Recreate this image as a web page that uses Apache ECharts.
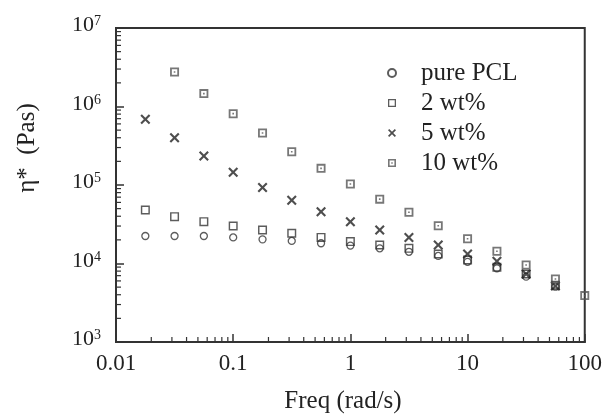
<!DOCTYPE html>
<html>
<head>
<meta charset="utf-8">
<script src="https://cdn.jsdelivr.net/npm/echarts@6/dist/echarts.min.js"></script>
<style>
  html, body { margin: 0; padding: 0; background: #fff; }
  #chart { width: 605px; height: 414px; }
</style>
</head>
<body>
<div id="chart"></div>
<script>
// Angular frequency (rad/s)
const freq = [0.0178, 0.0316, 0.0562, 0.1, 0.178, 0.316, 0.562, 1, 1.78, 3.16, 5.62, 10, 17.8, 31.6, 56.2, 100];

// Complex viscosity |eta*| (Pa s) for each composition
const purePCL = [22400, 22400, 22400, 21500, 20300, 19400, 18100, 16900, 15600, 14100, 12500, 10500, 8700, 6800, 5060, null];
const wt2 = [48000, 39500, 34100, 30000, 26700, 24300, 21500, 19000, 17200, 15600, 13200, 11100, 8950, 7350, 5300, null];
const wt5 = [690000, 400000, 234000, 145000, 93000, 64000, 45700, 34100, 26700, 21500, 17200, 13200, 10700, 7350, 5170, null];
const wt10 = [null, 2750000, 1460000, 810000, 460000, 265000, 163000, 103000, 66000, 45000, 30300, 20700, 14300, 9570, 6350, 3900];

const seriesNames = ['pure PCL', '2 wt%', '5 wt%', '10 wt%'];
const xTickLabels = ['0.01', '0.1', '1', '10', '100'];
const yTickExponents = ['3', '4', '5', '6', '7'];

const FONT = 'Liberation Serif, Times New Roman, serif';
const INK = '#222';

function pairs(ys) {
  const out = [];
  ys.forEach((y, i) => { if (y != null) out.push([freq[i], y]); });
  return out;
}

// Log-decade minor tick positions (2..9 x 10^k)
function minorTicks(lo, hi) {
  const t = [];
  for (let k = lo; k < hi; k++) {
    for (let m = 2; m <= 9; m++) t.push(m * Math.pow(10, k));
  }
  return t;
}
const xMinor = minorTicks(-2, 2);
const yMinor = minorTicks(3, 7);

// Marker outlines drawn as filled rings so they keep their aspect everywhere
const X_SYMBOL = 'path://M0,1.5 L1.5,0 L5,3.5 L8.5,0 L10,1.5 L6.5,5 L10,8.5 L8.5,10 L5,6.5 L1.5,10 L0,8.5 L3.5,5 Z';
const OPEN_SQUARE = 'path://M0,0 L10,0 L10,10 L0,10 Z M1.6,1.6 L1.6,8.4 L8.4,8.4 L8.4,1.6 Z';
const DOT_SQUARE = 'path://M0,0 L10,0 L10,10 L0,10 Z M2,2 L2,8 L8,8 L8,2 Z M4.1,4.1 L5.9,4.1 L5.9,5.9 L4.1,5.9 Z';

const chart = echarts.init(document.getElementById('chart'), null, { renderer: 'canvas' });

const option = {
  backgroundColor: '#fff',
  animation: false,
  grid: {
    left: 116, right: 19, top: 28, bottom: 72,
    show: true, borderColor: '#333', borderWidth: 2, backgroundColor: 'transparent'
  },
  xAxis: {
    type: 'log', logBase: 10, min: 0.01, max: 100,
    axisLine: { show: true, lineStyle: { color: '#333', width: 2 } },
    axisTick: { show: true, inside: true, length: 8, lineStyle: { color: '#333', width: 1.5 } },
    splitLine: { show: false },
    axisLabel: {
      margin: 10, color: INK, fontFamily: FONT, fontSize: 23,
      formatter: v => xTickLabels[Math.round(Math.log10(v)) + 2]
    }
  },
  yAxis: {
    type: 'log', logBase: 10, min: 1e3, max: 1e7,
    axisLine: { show: true, lineStyle: { color: '#333', width: 2 } },
    axisTick: { show: true, inside: true, length: 8, lineStyle: { color: '#333', width: 1.5 } },
    splitLine: { show: false },
    axisLabel: {
      margin: 15, color: INK, fontFamily: FONT,
      padding: [0, 0, 5, 0],
      formatter: v => '{b|10}{s|' + yTickExponents[Math.round(Math.log10(v)) - 3] + '}',
      rich: {
        b: { fontSize: 22, fontFamily: FONT, color: INK, lineHeight: 22 },
        s: { fontSize: 14, fontFamily: FONT, color: INK, verticalAlign: 'top', lineHeight: 14 }
      }
    }
  },
  legend: {
    data: seriesNames,
    orient: 'vertical',
    left: 382, top: 53,
    itemWidth: 48, itemHeight: 8, itemGap: 0,
    symbolKeepAspect: true,
    textStyle: { fontFamily: FONT, fontSize: 25, color: INK, lineHeight: 30 }
  },
  graphic: [
    {
      type: 'text', x: 343, y: 401,
      style: { text: 'Freq (rad/s)', font: '25px ' + FONT, fill: INK, align: 'center', verticalAlign: 'middle' }
    },
    {
      type: 'text', x: 27, y: 148, rotation: Math.PI / 2,
      style: { text: 'η*  (Pas)', font: '25px ' + FONT, fill: INK, align: 'center', verticalAlign: 'middle' }
    }
  ],
  series: [
    {
      name: 'pure PCL', type: 'scatter', clip: false, symbol: 'circle', symbolSize: 7,
      itemStyle: { color: 'rgba(0,0,0,0)', borderColor: '#333', borderWidth: 1.3 },
      data: pairs(purePCL)
    },
    {
      name: '2 wt%', type: 'scatter', clip: false, symbol: OPEN_SQUARE, symbolSize: 9,
      itemStyle: { color: '#333' },
      data: pairs(wt2)
    },
    {
      name: '5 wt%', type: 'scatter', clip: false, symbol: X_SYMBOL, symbolSize: 10,
      itemStyle: { color: '#222' },
      data: pairs(wt5)
    },
    {
      name: '10 wt%', type: 'scatter', clip: false, symbol: DOT_SQUARE, symbolSize: 9,
      itemStyle: { color: '#555' },
      data: pairs(wt10)
    },
    {
      // minor ticks along the frequency axis
      type: 'custom', silent: true, clip: false,
      data: xMinor.map(v => [v, 1e3]),
      renderItem: (params, api) => {
        const p = api.coord([api.value(0), 1e3]);
        return { type: 'line', shape: { x1: p[0], y1: p[1], x2: p[0], y2: p[1] - 5 },
                 style: { stroke: '#333', lineWidth: 1.2 } };
      }
    },
    {
      // minor ticks along the viscosity axis
      type: 'custom', silent: true, clip: false,
      data: yMinor.map(v => [0.01, v]),
      renderItem: (params, api) => {
        const p = api.coord([0.01, api.value(1)]);
        return { type: 'line', shape: { x1: p[0], y1: p[1], x2: p[0] + 5, y2: p[1] },
                 style: { stroke: '#333', lineWidth: 1.2 } };
      }
    }
  ]
};

chart.setOption(option);
</script>
</body>
</html>
